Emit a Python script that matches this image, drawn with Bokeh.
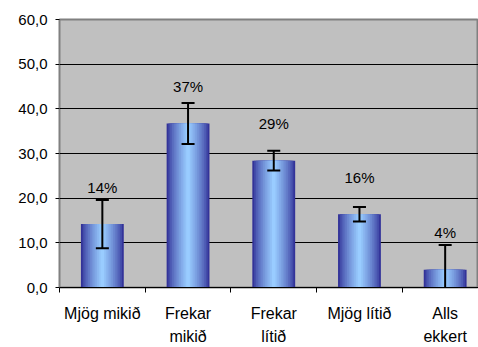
import numpy as np
from bokeh.plotting import figure
from bokeh.models import Range1d, FixedTicker
from bokeh.core.properties import value
from bokeh.embed import file_html
from bokeh.resources import INLINE

# ---- data ----
categories = ["Mjög mikið", "Frekar\nmikið", "Frekar\nlítið", "Mjög lítið", "Alls\nekkert"]
values = [14.2, 36.7, 28.4, 16.4, 4.0]
errors = [5.4, 4.6, 2.2, 1.6, 5.5]
pct_labels = ["14%", "37%", "29%", "16%", "4%"]
y_ticks = [0, 10, 20, 30, 40, 50, 60]
y_tick_labels = ["0,0", "10,0", "20,0", "30,0", "40,0", "50,0", "60,0"]

FONT = "Liberation Sans"

xs = np.arange(len(categories), dtype=float)
vals = np.array(values)
errs = np.array(errors)
lower = vals - errs
upper = vals + errs

p = figure(width=478, height=347, output_backend="svg", toolbar_location=None,
           x_range=Range1d(-0.5, 4.389), y_range=Range1d(0, 60),
           min_border_left=59, min_border_right=0, min_border_top=19, min_border_bottom=58)
p.background_fill_color = "#C0C0C0"
p.border_fill_color = "white"
p.outline_line_color = "#808080"
p.outline_line_width = 2

# gradient bars (layered vbars)
N = 12
c0 = np.array([51, 51, 153])
c1 = np.array([153, 204, 255])
for k in range(N):
    t = (k / (N - 1)) ** 0.75
    c = (c0 + (c1 - c0) * t).astype(int)
    col = "#%02x%02x%02x" % tuple(c)
    w = 0.5 * (1 - k / N)
    p.vbar(x=xs, top=vals, bottom=0, width=w, fill_color=col, line_color=None)

# error bars
cap = 0.076
p.segment(x0=xs, y0=lower, x1=xs, y1=upper, line_color="black", line_width=2)
p.segment(x0=xs - cap, y0=upper, x1=xs + cap, y1=upper, line_color="black", line_width=2)
p.segment(x0=xs - cap, y0=lower, x1=xs + cap, y1=lower, line_color="black", line_width=2)

# percentage labels
p.text(x=xs, y=vals, text=pct_labels, y_offset=-37, text_align="center",
       text_baseline="middle", text_font=value(FONT), text_font_size="15px", text_color="black")

# x axis
p.xaxis.ticker = FixedTicker(ticks=list(xs), minor_ticks=list(xs - 0.5))
p.xaxis.major_label_overrides = {float(i): c for i, c in enumerate(categories)}
p.xaxis.major_tick_out = 0
p.xaxis.major_tick_in = 0
p.xaxis.minor_tick_out = 5
p.xaxis.minor_tick_in = 0
p.xaxis.minor_tick_line_color = "black"
p.xaxis.axis_line_color = "black"
p.xaxis.major_label_standoff = 12
p.xaxis.major_label_text_font = FONT
p.xaxis.major_label_text_font_size = "16px"
p.xaxis.major_label_text_color = "black"
p.xaxis.major_label_text_line_height = 1.36
p.xgrid.visible = False

# y axis
p.yaxis.ticker = FixedTicker(ticks=y_ticks)
p.yaxis.major_label_overrides = {float(v): s for v, s in zip(y_ticks, y_tick_labels)}
p.yaxis.major_tick_out = 4
p.yaxis.major_tick_in = 0
p.yaxis.minor_tick_line_color = None
p.yaxis.axis_line_color = "#808080"
p.yaxis.major_tick_line_color = "black"
p.yaxis.major_label_standoff = 8
p.yaxis.major_label_text_font = FONT
p.yaxis.major_label_text_font_size = "15px"
p.yaxis.major_label_text_color = "black"
p.ygrid.grid_line_color = "black"
p.ygrid.grid_line_width = 1
p.ygrid.grid_line_alpha = 1.0

open("out.html", "w").write(file_html(p, INLINE))
